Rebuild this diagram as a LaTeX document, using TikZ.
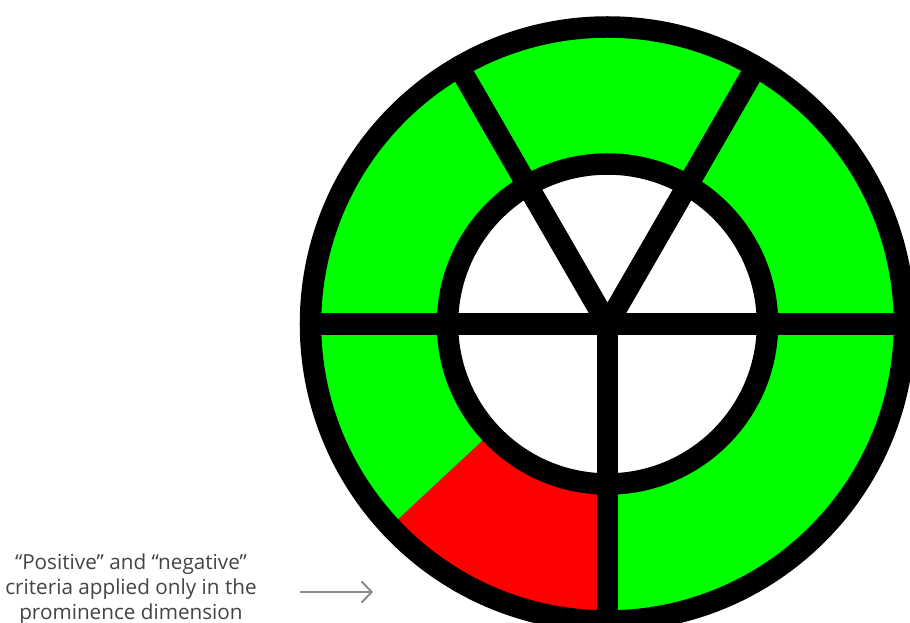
\documentclass[tikz,border=0pt]{standalone}
\usepackage{fontspec}
\setmainfont{Open Sans}
\usetikzlibrary{arrows.meta}
\definecolor{RingGreen}{HTML}{00FF00}
\definecolor{RingRed}{HTML}{FF0000}
\definecolor{NoteGray}{HTML}{444444}
\definecolor{ArrowGray}{HTML}{8C8C8C}
\begin{document}
\begin{tikzpicture}[
    spoke/.style={draw=black, line width=21.5pt},
    note/.style={font=\fontsize{20.7}{25}\selectfont, text=NoteGray, align=center},
    pointer/.style={-{Straight Barb[length=10pt, width=21pt]}, draw=ArrowGray, line width=2pt}
  ]
    \def\Rout{297pt}
    \def\Rin{160pt}
    \clip (-607.5pt,-299pt) rectangle (302.5pt,324pt);
    \fill[white] (-607.5pt,-299pt) rectangle (302.5pt,324pt);

    % rings
    \fill[RingGreen] (0,0) circle (\Rout);
    \fill[RingRed] (223:\Rin) arc (223:270:\Rin) -- (270:\Rout) arc (270:223:\Rout) -- cycle;
    \fill[white] (0,0) circle (\Rin);

    % spokes and borders
    \draw[spoke] (180:\Rout) -- (0:\Rout);
    \draw[spoke] (0,0) -- (270:\Rout);
    \draw[spoke, miter limit=10] (120:\Rout) -- (0,0) -- (60:\Rout);
    \draw[spoke] (0,0) circle (\Rin);
    \draw[spoke] (0,0) circle (\Rout);

    % note
    \node[note] (remark) at (-476.5pt,-265pt) {“Positive” and “negative”\\criteria applied only in the\\prominence dimension};
    \coordinate (tail) at (-307.5pt,-268pt);
    \coordinate (head) at (-234.5pt,-268pt);
    \draw[pointer] (tail) -- (head);
\end{tikzpicture}
\end{document}
